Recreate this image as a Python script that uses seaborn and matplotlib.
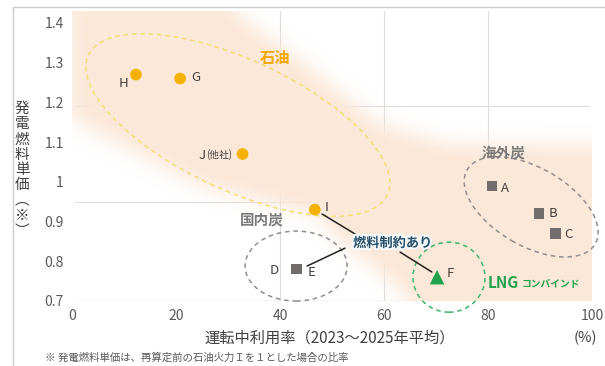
import numpy as np
import pandas as pd
import matplotlib
matplotlib.use("Agg")
import matplotlib.pyplot as plt
import seaborn as sns
from matplotlib.patches import Ellipse, Rectangle
from matplotlib.path import Path
import matplotlib.transforms as mtransforms
import matplotlib.patheffects as pe

# ---------------- data ----------------
plants = ["A", "B", "C", "D", "E", "F", "G", "H", "I", "J"]
utilization = [80.8, 89.8, 93.0, 43.2, 43.2, 70.2, 20.8, 12.3, 46.7, 32.8]   # %
unit_cost = [0.99, 0.92, 0.87, 0.78, 0.78, 0.76, 1.26, 1.27, 0.93, 1.07]    # ratio
fuel_type = ["海外炭", "海外炭", "海外炭", "国内炭", "国内炭", "LNG", "石油", "石油", "石油", "石油"]

x_ticks = [0, 20, 40, 60, 80, 100]
y_ticks = [0.7, 0.8, 0.9, 1.0, 1.1, 1.2, 1.3, 1.4]
y_tick_labels = ["0.7", "0.8", "0.9", "1", "1.1", "1.2", "1.3", "1.4"]

# label offsets (pixels) and alignment for each plant
label_dx = [13, 14, 13, -22, 15, 13, 16, -13, 10, -10]
label_dy = [-3, 0, -1, -1, -3, 4, 1, -9, 2, -1]
label_ha = ["center", "center", "center", "center", "center", "center", "center", "center", "left", "right"]

df = pd.DataFrame({"plant": plants, "util": utilization, "cost": unit_cost, "type": fuel_type})

# ---------------- style ----------------
sns.set_theme(style="white")
plt.rcParams["font.family"] = ["Noto Sans CJK JP", "DejaVu Sans"]

C_OIL = "#f5b000"
C_COAL = "#716d6d"
C_LNG = "#1ea34b"
C_TEXT = "#404040"
C_TICK = "#595959"
C_GRID = "#dcdcdc"

fig = plt.figure(figsize=(6.05, 3.66), dpi=100)
ax = fig.add_axes([72 / 605, 65 / 366, 520 / 605, 290 / 366])
XLIM = (0, 100)
YLIM = (0.7, 1.43)

# grid (as seen in the picture)
for gx in [40, 60, 80]:
    ax.axvline(gx, color=C_GRID, lw=0.8, zorder=0.5)
for gy in [0.95, 1.19]:
    ax.axhline(gy, xmin=0.005, xmax=0.995, color=C_GRID, lw=0.8, zorder=0.5)
ax.axhline(0.7, xmin=0.005, xmax=0.995, color="#d0d0d0", lw=1.0, zorder=0.6)

# ---------------- soft peach band ----------------
band_x = [0, 28.5, 43.8, 59.2, 72.7, 105, 105, 66.9, 51.5, 47.7, 24.6, 0]
band_y = [1.45, 1.45, 1.307, 1.143, 1.093, 1.09, 0.68, 0.69, 0.853, 0.916, 0.992, 1.16]
nx, ny = 520, 292
gxs = np.linspace(XLIM[0], XLIM[1], nx)
gys = np.linspace(YLIM[0], YLIM[1], ny)
GX, GY = np.meshgrid(gxs, gys)
poly = Path(np.column_stack([band_x, band_y]))
mask = poly.contains_points(np.column_stack([GX.ravel(), GY.ravel()])).reshape(ny, nx).astype(float)


def box_blur(a, r, axis):
    k = np.ones(2 * r + 1) / (2 * r + 1)
    pad = [(0, 0), (0, 0)]
    pad[axis] = (r, r)
    ap = np.pad(a, pad, mode="edge")
    return np.apply_along_axis(lambda v: np.convolve(v, k, mode="valid"), axis, ap)


for _ in range(3):
    mask = box_blur(mask, 9, 0)
    mask = box_blur(mask, 9, 1)

rgba = np.zeros((ny, nx, 4))
rgba[..., 0] = 252 / 255
rgba[..., 1] = 232 / 255
rgba[..., 2] = 216 / 255
rgba[..., 3] = np.clip(mask * 1.05, 0, 1)
ax.imshow(rgba, extent=[XLIM[0], XLIM[1], YLIM[0], YLIM[1]], origin="lower",
          aspect="auto", zorder=1, interpolation="bilinear")

# ---------------- group ellipses ----------------
# center (data), width/height (pixels), angle (deg), colour
ell_cx = [31.9, 43.1, 88.3, 72.5]
ell_cy = [1.143, 0.788, 0.937, 0.760]
ell_w = [330, 102, 148, 72]
ell_h = [130, 70, 78, 70]
ell_ang = [-25, 0, -30, 0]
ell_col = ["#f7dc70", "#8f8f8f", "#8f8f8f", "#3cb76a"]
for cx, cy, w, h, a, c in zip(ell_cx, ell_cy, ell_w, ell_h, ell_ang, ell_col):
    tr = fig.dpi_scale_trans + mtransforms.ScaledTranslation(cx, cy, ax.transData)
    e = Ellipse((0, 0), w / 100, h / 100, angle=a, transform=tr, fill=False,
                edgecolor=c, lw=1.1, ls=(0, (3, 2.5)), zorder=2, clip_on=False)
    ax.add_artist(e)

# ---------------- points ----------------
sns.scatterplot(data=df, x="util", y="cost", hue="type", style="type",
                palette={"石油": C_OIL, "海外炭": C_COAL, "国内炭": C_COAL, "LNG": C_LNG},
                markers={"石油": "o", "海外炭": "s", "国内炭": "s", "LNG": "^"},
                size="type", sizes={"石油": 70, "海外炭": 55, "国内炭": 55, "LNG": 110},
                edgecolor="none", linewidth=0, legend=False, zorder=3, ax=ax)

for i, p in enumerate(plants):
    if p == "J":
        ax.annotate("(他社)", (utilization[i], unit_cost[i]), xytext=(label_dx[i], label_dy[i]),
                    textcoords="offset pixels", ha="right", va="center", fontsize=7,
                    color=C_TEXT, zorder=4)
        ax.annotate("J", (utilization[i], unit_cost[i]), xytext=(label_dx[i] - 27, label_dy[i]),
                    textcoords="offset pixels", ha="right", va="center", fontsize=9.5,
                    color=C_TEXT, zorder=4)
    else:
        ax.annotate(p, (utilization[i], unit_cost[i]), xytext=(label_dx[i], label_dy[i]),
                    textcoords="offset pixels", ha=label_ha[i], va="center", fontsize=9.5,
                    color=C_TEXT, zorder=4)

# ---------------- group labels ----------------
ax.text(39.0, 1.312, "石油", color="#f2a600", fontsize=11, fontweight="bold",
        ha="center", va="center", zorder=4)
ax.text(82.9, 1.073, "海外炭", color="#7a7a7a", fontsize=10.5, fontweight="bold",
        ha="center", va="center", zorder=4)
ax.text(36.5, 0.906, "国内炭", color="#7a7a7a", fontsize=10.5, fontweight="bold",
        ha="center", va="center", zorder=4)
ax.text(80.0, 0.745, "LNG", color=C_LNG, fontsize=11, fontweight="bold",
        ha="left", va="center", zorder=4)
ax.text(86.4, 0.743, "コンバインド", color=C_LNG, fontsize=7, fontweight="bold",
        ha="left", va="center", zorder=4)

ax.text(61.7, 0.846, "燃料制約あり", color="#27506a", fontsize=9.5, fontweight="bold",
        ha="center", va="center", zorder=5,
        path_effects=[pe.withStroke(linewidth=3, foreground="#f4f9fd")])
con_x = [[48.1, 55.4], [52.5, 45.2], [63.1, 69.2]]
con_y = [[0.919, 0.861], [0.833, 0.788], [0.823, 0.773]]
for cxs, cys in zip(con_x, con_y):
    ax.plot(cxs, cys, color="#222222", lw=1.1, zorder=4)

# ---------------- axes ----------------
ax.set_xlim(*XLIM)
ax.set_ylim(*YLIM)
ax.set_xticks(x_ticks)
ax.set_yticks(y_ticks)
ax.set_yticklabels(y_tick_labels)
ax.tick_params(axis="both", length=0, labelsize=10, colors=C_TICK)
ax.tick_params(axis="x", pad=6)
ax.tick_params(axis="y", pad=6)
ax.set_xlabel("")
ax.set_ylabel("")
for s in ax.spines.values():
    s.set_visible(False)
ax.patch.set_alpha(0)

fig.text(330 / 605, 1 - 338 / 366, "運転中利用率（2023〜2025年平均）", ha="center", va="center",
         fontsize=11, color=C_TEXT)
fig.text(585 / 605, 1 - 338 / 366, "(%)", ha="center", va="center", fontsize=10.5, color=C_TEXT)
fig.text(22 / 605, 1 - 170 / 366, "\n".join(list("発電燃料単価︵※︶")), ha="center", va="center",
         fontsize=10.5, color=C_TEXT, linespacing=1.12)
fig.text(45 / 605, 1 - 358 / 366, "※ 発電燃料単価は、再算定前の石油火力Ｉを１とした場合の比率",
         ha="left", va="center", fontsize=7.5, color=C_TICK)

# frame around figure
fig.add_artist(Rectangle((13 / 605, -0.1), 1.2, 1 - 7 / 366 + 0.1, transform=fig.transFigure,
                         fill=False, edgecolor="#cccccc", lw=1.0))

fig.savefig("out.png", dpi=100)
